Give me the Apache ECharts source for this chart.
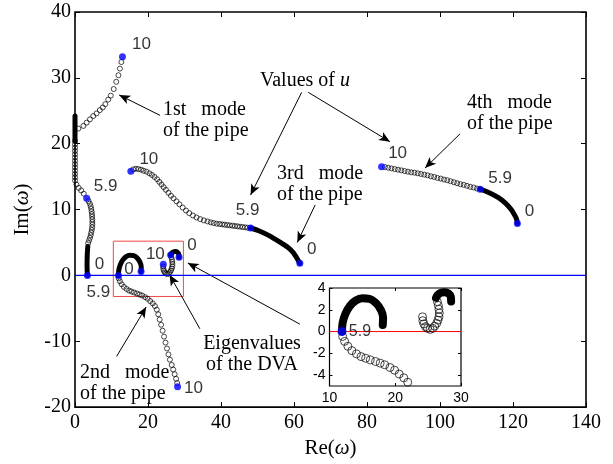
<!DOCTYPE html>
<html><head><meta charset="utf-8">
<script src="https://cdn.jsdelivr.net/npm/echarts@6/dist/echarts.min.js"></script>
<style>html,body{margin:0;padding:0;background:#fff}#c{width:613px;height:464px}</style>
</head><body><div id="c"></div>
<script>
// ---------------- data ----------------
const xTicks = [0, 20, 40, 60, 80, 100, 120, 140];
const yTicks = [-20, -10, 0, 10, 20, 30, 40];
const insetXTicks = [10, 20, 30];
const insetYTicks = [-4, -2, 0, 2, 4];
const uLabels = ['0', '5.9', '10'];

// 1st mode of the pipe
const mode1Dense = [[3.4,0],[3.3,1.5],[3.35,3.0],[3.5,4.4]];
const mode1Dense2 = [[0,20.4],[0,22.3],[0,24.2]];
const mode1Circles = [
  [3.6,4.9],[3.85,5.3],[4.1,5.7],[4.3,6.1],[4.45,6.5],[4.6,6.9],[4.7,7.3],[4.75,7.7],[4.75,8.1],[4.75,8.5],
  [4.7,8.9],[4.65,9.3],[4.55,9.7],[4.45,10.1],[4.3,10.5],[4.05,10.9],[3.7,11.3],
  [2.4,12.4],[1.7,12.9],[1.0,13.3],[0.4,13.8],
  [0,14.4],[0,14.9],[0,15.4],[0,15.9],[0,16.4],[0,16.9],[0,17.4],[0,17.9],[0,18.4],[0,18.9],[0,19.4],[0,19.9],[0,20.4],
  [0.9,22.3],[2.3,22.7],[3.2,23.2],[4.1,23.7],[5.0,24.2],[5.9,24.6],[6.8,25.1],[7.6,25.5],[8.3,26.0],[9.1,26.7],
  [9.8,27.3],[10.6,28.3],[11.3,29.4],[11.9,30.4],[12.3,31.4],[12.7,32.4]
];
const mode1Blue = [[3.4,0],[3.2,11.7],[13.0,33.2]];

// 2nd mode of the pipe
const mode2Dense = [[18.1,0.6],[18.15,1.3],[17.8,2.0],[17.1,2.6],[16.1,3.0],[15.0,3.05],[14.0,2.85],[13.1,2.35],[12.4,1.6],[12.0,0.8],[11.9,0]];
const mode2Circles = [
  [12.0,-0.45],[12.3,-0.9],[12.8,-1.35],[13.4,-1.75],[14.1,-2.05],[14.8,-2.3],[15.5,-2.45],[16.2,-2.6],[17.0,-2.75],
  [17.7,-2.9],[18.4,-3.05],[19.2,-3.3],[19.9,-3.55],[20.6,-3.9],[21.3,-4.25],[21.9,-4.65],[22.4,-5.2],[22.8,-5.9],
  [23.2,-6.7],[23.6,-7.5],[24.0,-8.4],[24.4,-9.3],[24.8,-10.2],[25.2,-11.1],[25.6,-12.0],[26.0,-12.8],[26.5,-13.6],
  [26.9,-14.3],[27.3,-15.0],[27.7,-15.7],[28.0,-16.35]
];
const mode2Blue = [[18.1,0.6],[11.9,0],[28.1,-16.9]];

// 3rd mode of the pipe
const mode3Dense = [[48.1,7.2],[50.5,6.75],[52.8,6.15],[54.8,5.5],[57.0,4.75],[58.9,4.0],[60.0,3.3],[60.8,2.6],[61.6,1.85]];
const mode3Circles = [
  [16.0,16.1],[16.7,16.2],[17.4,16.15],[18.1,16.05],[18.8,15.9],[19.6,15.75],[20.4,15.5],[21.1,15.25],[21.8,14.95],
  [22.5,14.6],[23.1,14.2],[23.7,13.8],[24.3,13.4],[24.9,13.0],[25.6,12.55],[26.3,12.1],[27.0,11.7],[27.8,11.25],
  [28.6,10.8],[29.5,10.3],[30.4,9.85],[31.3,9.45],[32.3,9.1],[33.3,8.8],[34.3,8.55],[35.3,8.35],[36.3,8.2],[37.2,8.05],
  [38.0,7.95],[38.8,7.85],[39.6,7.8],[40.3,7.75],[41.0,7.7],[41.7,7.65],[42.4,7.6],[43.1,7.55],[43.8,7.5],[44.5,7.45],
  [45.2,7.4],[45.9,7.35],[46.6,7.3],[47.3,7.25]
];
const mode3Blue = [[61.6,1.85],[48.1,7.2],[15.3,15.8]];

// 4th mode of the pipe
const mode4Dense = [[111.0,13.1],[113.5,12.55],[116.0,11.8],[118.0,10.95],[119.5,10.0],[120.5,9.1],[121.0,8.5],[121.2,7.9]];
const mode4Circles = [
  [84.9,16.45],[85.8,16.35],[86.7,16.25],[87.6,16.15],[88.5,16.05],[89.4,15.95],[90.3,15.85],[91.2,15.75],[92.1,15.65],
  [93.0,15.6],[93.9,15.5],[94.8,15.4],[95.7,15.3],[96.6,15.2],[97.5,15.05],[98.4,14.95],[99.3,14.8],[100.2,14.7],
  [101.1,14.55],[102.0,14.45],[102.9,14.3],[103.8,14.15],[104.7,14.0],[105.6,13.85],[106.5,13.75],[107.4,13.6],
  [108.3,13.45],[109.2,13.35],[110.1,13.2]
];
const mode4Blue = [[121.2,7.9],[111.0,13.1],[84.0,16.5]];

// eigenvalues of the DVA
const dvaDense = [[28.5,2.75],[28.45,3.2],[28.1,3.5],[27.5,3.62],[26.9,3.55],[26.45,3.35],[26.2,3.1]];
const dvaCircles = [
  [26.4,2.75],[26.55,2.4],[26.65,2.05],[26.7,1.7],[26.65,1.35],[26.5,1.05],[26.3,0.75],[26.0,0.5],[25.7,0.3],
  [25.3,0.2],[24.9,0.3],[24.6,0.45],[24.35,0.7],[24.2,1.0],[24.15,1.35]
];
const dvaBlue = [[28.5,2.75],[26.2,3.1],[24.2,1.7]];
const dvaLabels = ['0', '', '10'];

// zoomed region drawn as red box
const zoomBox = [[10.5,5.2],[29.7,-3.2]];

// ---------------- styling / construction ----------------
const SERIF = "'Liberation Serif','Times New Roman',serif";
const SANS = "'Liberation Sans',Arial,sans-serif";
const chart = echarts.init(document.getElementById('c'), null, {renderer:'canvas'});

function circles(data, xi, yi, size) {
  return {type:'scatter', xAxisIndex:xi, yAxisIndex:yi, data:data, symbol:'circle', symbolSize:size,
    itemStyle:{color:'rgba(0,0,0,0)', borderColor:'#000', borderWidth:0.9}, silent:true, z:6};
}
function dense(data, xi, yi, w) {
  return {type:'line', xAxisIndex:xi, yAxisIndex:yi, data:data, smooth:0.4, showSymbol:false, symbol:'none',
    lineStyle:{color:'#000', width:w, cap:'round', join:'round'}, silent:true, z:6};
}
function blue(pts, labels, offs, xi, yi, size, fs) {
  return {type:'scatter', xAxisIndex:xi, yAxisIndex:yi, symbol:'circle', symbolSize:size, silent:true, z:8,
    itemStyle:{color:'#0000ff'},
    data: pts.map((p,i)=>({value:p, label: (labels[i] && offs[i]) ? {show:true, formatter:labels[i], position:'inside',
      offset:offs[i], align:'center', verticalAlign:'middle', color:'#000', fontFamily:SANS, fontSize:fs} : {show:false}}))};
}

const lblOff = {
  m1:[[12,-11],[19,-12],[19,-12]],
  m2:[[-12,-2],[-20,17],[16,2]],
  m3:[[12,-14],[-3,-18],[18,-12]],
  m4:[[12,-12],[20,-11],[16,-13]],
  dva:[[13,-12],null,[-8,-10]]
};

const arrows = [
  [[23.3,24.3],[12.1,27.4]],
  [[62.1,27.8],[48.1,12.2]],
  [[63.9,27.8],[86.3,20.3]],
  [[65.8,10.7],[60.9,5.0]],
  [[105.5,21.5],[95.9,16.3]],
  [[11.4,-12.3],[19.5,-4.8]],
  [[34.2,-8.1],[25.9,0.1]],
  [[61.6,-7.4],[30.9,1.9]]
];

function ax(o) { return Object.assign({type:'value', splitLine:{show:false}}, o); }
const mainTick = {show:true, inside:true, length:5, lineStyle:{color:'#000', width:1}};
const insetTick = {show:true, inside:true, length:3, lineStyle:{color:'#000', width:1}};

const option = {
  animation:false,
  backgroundColor:'#fff',
  grid:[
    {left:75, top:12, width:511, height:399, containLabel:false, show:true, backgroundColor:'rgba(0,0,0,0)', borderColor:'#000', borderWidth:1.6},
    {left:329.5, top:288, width:131.5, height:98, containLabel:false, show:true, backgroundColor:'rgba(0,0,0,0)', borderColor:'#000', borderWidth:1.2}
  ],
  xAxis:[
    ax({gridIndex:0, min:xTicks[0], max:xTicks[xTicks.length-1], interval:20, position:'bottom',
      axisLine:{show:false, onZero:false}, axisTick:mainTick,
      axisLabel:{color:'#000', fontFamily:SERIF, fontSize:20, margin:6},
      name:'Re({i|ω})', nameLocation:'middle', nameGap:28,
      nameTextStyle:{color:'#000', fontFamily:SERIF, fontSize:21, rich:{i:{fontStyle:'italic', fontFamily:SERIF, fontSize:21, color:'#000'}}}}),
    ax({gridIndex:0, min:xTicks[0], max:xTicks[xTicks.length-1], interval:20, position:'top',
      axisLine:{show:false, onZero:false}, axisTick:mainTick, axisLabel:{show:false}}),
    ax({gridIndex:1, min:10, max:30, interval:10, position:'bottom',
      axisLine:{show:false, onZero:false}, axisTick:insetTick,
      axisLabel:{color:'#000', fontFamily:SANS, fontSize:14, margin:5, customValues:insetXTicks}}),
    ax({gridIndex:1, min:10, max:30, interval:10, position:'top',
      axisLine:{show:false, onZero:false}, axisTick:insetTick, axisLabel:{show:false}})
  ],
  yAxis:[
    ax({gridIndex:0, min:yTicks[0], max:yTicks[yTicks.length-1], interval:10, position:'left',
      axisLine:{show:false, onZero:false}, axisTick:mainTick,
      axisLabel:{color:'#000', fontFamily:SERIF, fontSize:20, margin:4},
      name:'Im({i|ω})', nameLocation:'middle', nameGap:41, nameRotate:90,
      nameTextStyle:{color:'#000', fontFamily:SERIF, fontSize:21, rich:{i:{fontStyle:'italic', fontFamily:SERIF, fontSize:21, color:'#000'}}}}),
    ax({gridIndex:0, min:yTicks[0], max:yTicks[yTicks.length-1], interval:10, position:'right',
      axisLine:{show:false, onZero:false}, axisTick:mainTick, axisLabel:{show:false}}),
    ax({gridIndex:1, min:-5, max:4, position:'left',
      axisLine:{show:false, onZero:false},
      axisTick:Object.assign({customValues:insetYTicks}, insetTick),
      axisLabel:{color:'#000', fontFamily:SANS, fontSize:14, margin:4, customValues:insetYTicks}}),
    ax({gridIndex:1, min:-5, max:4, position:'right',
      axisLine:{show:false, onZero:false},
      axisTick:Object.assign({customValues:insetYTicks}, insetTick), axisLabel:{show:false}})
  ],
  series:[
    {type:'line', xAxisIndex:0, yAxisIndex:0, data:[[xTicks[0],0],[xTicks[xTicks.length-1],0]], showSymbol:false, symbol:'none',
      lineStyle:{color:'#0000ff', width:1.3}, silent:true, z:7,
      markArea:{silent:true, itemStyle:{color:'rgba(0,0,0,0)', borderColor:'#f04848', borderWidth:1},
        data:[[{coord:zoomBox[0]},{coord:zoomBox[1]}]]}},
    {type:'scatter', xAxisIndex:0, yAxisIndex:0, data:[], silent:true, z:9,
      markLine:{silent:true, symbol:['none','arrow'], symbolSize:[7,11], label:{show:false},
        lineStyle:{color:'#000', width:1, type:'solid'},
        data: arrows.map(a=>[{coord:a[0]},{coord:a[1]}])}},
    dense(mode1Dense, 0, 0, 5), dense(mode1Dense2, 0, 0, 5), circles(mode1Circles, 0, 0, 5), blue(mode1Blue, uLabels, lblOff.m1, 0, 0, 7, 17),
    dense(mode2Dense, 0, 0, 5), circles(mode2Circles, 0, 0, 5), blue(mode2Blue, uLabels, lblOff.m2, 0, 0, 7, 17),
    dense(mode3Dense, 0, 0, 5), circles(mode3Circles, 0, 0, 5), blue(mode3Blue, uLabels, lblOff.m3, 0, 0, 7, 17),
    dense(mode4Dense, 0, 0, 5), circles(mode4Circles, 0, 0, 5), blue(mode4Blue, uLabels, lblOff.m4, 0, 0, 7, 17),
    dense(dvaDense, 0, 0, 5), circles(dvaCircles, 0, 0, 5), blue(dvaBlue, dvaLabels, lblOff.dva, 0, 0, 7, 17),
    // inset
    {type:'line', xAxisIndex:2, yAxisIndex:2, data:[[10,0],[30,0]], showSymbol:false, symbol:'none',
      lineStyle:{color:'#ff0000', width:1}, silent:true, z:2},
    dense(mode2Dense, 2, 2, 8), circles(mode2Circles, 2, 2, 8),
    dense(dvaDense, 2, 2, 8), circles(dvaCircles, 2, 2, 8),
    blue([mode2Blue[1]], [uLabels[1]], [[18,0]], 2, 2, 9, 16)
  ],
  graphic:[
    {type:'text', x:163, y:99, silent:true, z:10, style:{text:'1st   mode\nof the pipe', fill:'#000', font:'20px '+SERIF, lineHeight:21, textAlign:'left', textVerticalAlign:'top'}},
    {type:'text', x:305, y:81, silent:true, z:10, style:{text:'Values of {i|u}', fill:'#000', font:'20px '+SERIF, textAlign:'center', textVerticalAlign:'middle',
      rich:{i:{fontStyle:'italic', fontFamily:SERIF, fontSize:20, fill:'#000'}}}},
    {type:'text', x:277, y:163, silent:true, z:10, style:{text:'3rd   mode\nof the pipe', fill:'#000', font:'20px '+SERIF, lineHeight:21, textAlign:'left', textVerticalAlign:'top'}},
    {type:'text', x:467, y:92, silent:true, z:10, style:{text:'4th   mode\nof the pipe', fill:'#000', font:'20px '+SERIF, lineHeight:21, textAlign:'left', textVerticalAlign:'top'}},
    {type:'text', x:80, y:362, silent:true, z:10, style:{text:'2nd   mode\nof the pipe', fill:'#000', font:'20px '+SERIF, lineHeight:21, textAlign:'left', textVerticalAlign:'top'}},
    {type:'text', x:252, y:333, silent:true, z:10, style:{text:'Eigenvalues\nof the DVA', fill:'#000', font:'20px '+SERIF, lineHeight:21, textAlign:'center', textVerticalAlign:'top'}}
  ]
};
chart.setOption(option);
</script></body></html>
